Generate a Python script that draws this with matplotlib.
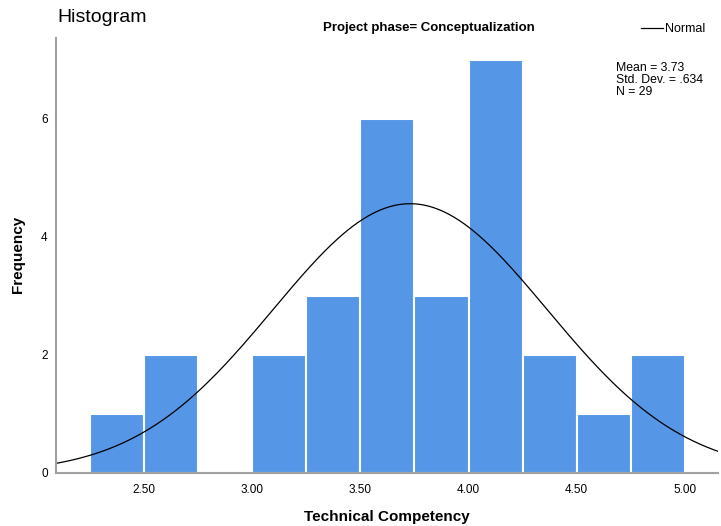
import numpy as np
import matplotlib
matplotlib.use('Agg')
import matplotlib.pyplot as plt

# histogram bins (Technical Competency) and counts
bin_edges = [2.25, 2.50, 2.75, 3.00, 3.25, 3.50, 3.75, 4.00, 4.25, 4.50, 4.75, 5.00]
counts = [1, 2, 0, 2, 3, 6, 3, 7, 2, 1, 2]

mean = 3.73
std_dev = 0.634
n = 29

x_ticks = [2.50, 3.00, 3.50, 4.00, 4.50, 5.00]
y_ticks = [0, 2, 4, 6]

plt.rcParams['font.family'] = ['Liberation Sans', 'DejaVu Sans']

fig = plt.figure(figsize=(7.21, 5.26), dpi=100)
ax = fig.add_axes([0.0777, 0.1008, 0.918, 0.827])

edges = np.array(bin_edges)
widths = np.diff(edges)
ax.bar(edges[:-1], counts, width=widths, align='edge',
       color='#5596E6', edgecolor='white', linewidth=1.5)

xmin, xmax = 2.093, 5.153
xs = np.linspace(xmin, xmax, 400)
bw = widths[0]
curve = n * bw / (std_dev * np.sqrt(2 * np.pi)) * np.exp(-0.5 * ((xs - mean) / std_dev) ** 2)
ax.plot(xs, curve, color='black', linewidth=0.9, label='Normal')

ax.set_xlim(xmin, xmax)
ax.set_ylim(0, 7.37)
ax.set_xticks(x_ticks)
ax.set_xticklabels([f'{t:.2f}' for t in x_ticks], fontsize=8.5)
ax.set_yticks(y_ticks)
ax.set_yticklabels([str(t) for t in y_ticks], fontsize=8.5)
ax.tick_params(axis='x', length=0, pad=8)
ax.tick_params(axis='y', length=0, pad=6)

for side in ['top', 'right']:
    ax.spines[side].set_visible(False)
for side in ['left', 'bottom']:
    ax.spines[side].set_color('#a0a0a0')
    ax.spines[side].set_linewidth(1.5)

# axis titles placed in figure pixels like the original
fig.text(387 / 721, 1 - 517 / 526, 'Technical Competency', fontsize=11, weight='bold',
         ha='center', va='center')
fig.text(18 / 721, 1 - 254 / 526, 'Frequency', fontsize=11, weight='bold',
         ha='center', va='center', rotation=90)

fig.text(57 / 721, 1 - 18 / 526, 'Histogram', fontsize=14, va='center', ha='left')
fig.text(429 / 721, 1 - 28 / 526, 'Project phase= Conceptualization',
         fontsize=9.5, weight='bold', va='center', ha='center')

# legend: short line + label
fig.add_artist(plt.Line2D([641 / 721, 663 / 721], [1 - 28 / 526, 1 - 28 / 526],
                          color='black', linewidth=0.9))
fig.text(665 / 721, 1 - 29 / 526, 'Normal', fontsize=9, va='center', ha='left')

fig.text(616 / 721, 1 - 62 / 526, f'Mean = {mean:.2f}\nStd. Dev. = .634\nN = {n}',
         fontsize=8.8, va='top', ha='left', linespacing=1.02)

fig.savefig('out.png', dpi=100)
